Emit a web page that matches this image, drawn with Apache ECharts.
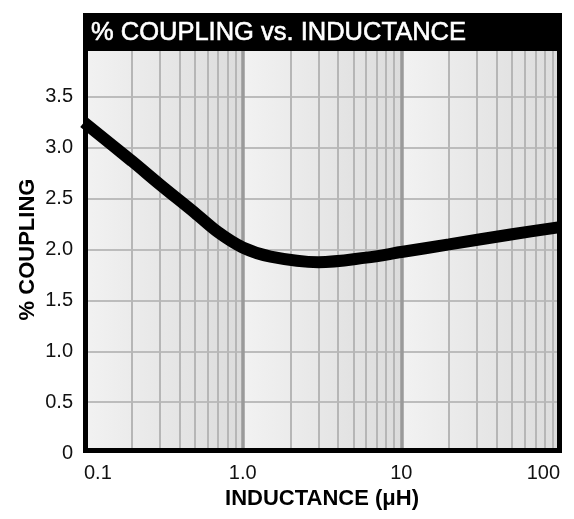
<!DOCTYPE html>
<html>
<head>
<meta charset="utf-8">
<title>% COUPLING vs. INDUCTANCE</title>
<script src="https://cdn.jsdelivr.net/npm/echarts@6/dist/echarts.min.js"></script>
<style>
  html, body { margin: 0; padding: 0; background: #fff; }
  #chart { width: 574px; height: 519px; }
</style>
</head>
<body>
<div id="chart"></div>
<script>
// inductance (uH) and % coupling
const inductance = [0.1, 0.2, 0.3, 0.5, 0.7, 1.0, 1.5, 3, 6, 10, 20, 50, 100];
const coupling = [3.25, 2.87, 2.64, 2.36, 2.17, 2.02, 1.93, 1.875, 1.92, 1.975, 2.05, 2.15, 2.22];

// x ticks (decades) and their labels
const xTicks = [0.1, 1, 10, 100];
const xTickLabels = ['0.1', '1.0', '10', '100'];
// minor log grid lines (2..9 in every decade)
const xMinor = [0.2, 0.3, 0.4, 0.5, 0.6, 0.7, 0.8, 0.9, 2, 3, 4, 5, 6, 7, 8, 9, 20, 30, 40, 50, 60, 70, 80, 90];
const xMajor = [1, 10];
// horizontal grid lines
const yGrid = [0.5, 1.0, 1.5, 2.0, 2.5, 3.0, 3.5];
// shaded decade bands
const decades = [[0.1, 1], [1, 10], [10, 100]];

const chart = echarts.init(document.getElementById('chart'));

const bandColor = {
  type: 'linear', x: 0, y: 0, x2: 1, y2: 0,
  colorStops: [{ offset: 0, color: '#f2f2f2' }, { offset: 1, color: '#dcdcdc' }]
};

const option = {
  animation: false,
  backgroundColor: '#fff',
  textStyle: { fontFamily: 'Liberation Sans' },
  grid: { left: 84, right: 14, top: 46, bottom: 66 },
  xAxis: {
    type: 'log',
    logBase: 10,
    min: 0.1,
    max: 100,
    name: 'INDUCTANCE (\u03bcH)',
    nameLocation: 'middle',
    nameGap: 30,
    nameTextStyle: { fontSize: 22, fontWeight: 'bold', color: '#000' },
    axisLine: { show: false },
    axisTick: { show: false },
    splitLine: { show: false },
    axisLabel: {
      fontSize: 20,
      color: '#111',
      margin: 10,
      alignMinLabel: 'left',
      alignMaxLabel: 'right',
      formatter: function (v) {
        for (let i = 0; i < xTicks.length; i++) {
          if (Math.abs(Math.log10(v) - Math.log10(xTicks[i])) < 1e-6) return xTickLabels[i];
        }
        return '';
      }
    }
  },
  yAxis: {
    type: 'value',
    min: 0,
    max: 4,
    interval: 0.5,
    name: '% COUPLING',
    nameLocation: 'middle',
    nameGap: 45,
    nameMoveOverlap: false,
    nameTextStyle: { fontSize: 22, fontWeight: 'bold', color: '#000' },
    axisLine: { show: false },
    axisTick: { show: false },
    splitLine: { show: false },
    axisLabel: {
      fontSize: 20,
      color: '#111',
      margin: 11,
      showMaxLabel: false,
      formatter: function (v) { return v === 0 ? '0' : v.toFixed(1); }
    }
  },
  series: [
    {
      // decade shading
      type: 'line',
      data: [],
      z: 1,
      silent: true,
      markArea: {
        silent: true,
        itemStyle: { color: bandColor },
        data: decades.map(d => [{ xAxis: d[0] }, { xAxis: d[1] }])
      }
    },
    {
      // grid lines
      type: 'line',
      data: [],
      z: 2,
      silent: true,
      markLine: {
        silent: true,
        symbol: ['none', 'none'],
        label: { show: false },
        data: [].concat(
          yGrid.map(v => ({ yAxis: v, lineStyle: { color: '#bcbcbc', width: 2, type: 'solid' } })),
          xMinor.map(v => ({ xAxis: v, lineStyle: { color: '#b6b6b6', width: 2, type: 'solid' } })),
          xMajor.map(v => ({ xAxis: v, lineStyle: { color: '#9a9a9a', width: 3.5, type: 'solid' } }))
        )
      }
    },
    {
      type: 'line',
      data: inductance.map((x, i) => [x, coupling[i]]),
      z: 5,
      smooth: 0.35,
      showSymbol: false,
      symbol: 'none',
      lineStyle: { color: '#000', width: 12, cap: 'butt' }
    }
  ],
  graphic: [
    {
      type: 'rect',
      z: 100,
      silent: true,
      shape: { x: 85.5, y: 15.5, width: 474, height: 435 },
      style: { fill: null, stroke: '#000', lineWidth: 5 }
    },
    {
      type: 'rect',
      z: 100,
      silent: true,
      shape: { x: 83, y: 13, width: 479, height: 38 },
      style: { fill: '#000' }
    },
    {
      type: 'text',
      z: 101,
      silent: true,
      x: 91,
      y: 33,
      style: {
        text: '% COUPLING vs. INDUCTANCE',
        fill: '#fff',
        font: '25.5px "Liberation Sans"',
        verticalAlign: 'middle',
        stroke: '#fff',
        lineWidth: 0.6
      }
    }
  ]
};

chart.setOption(option);
</script>
</body>
</html>
